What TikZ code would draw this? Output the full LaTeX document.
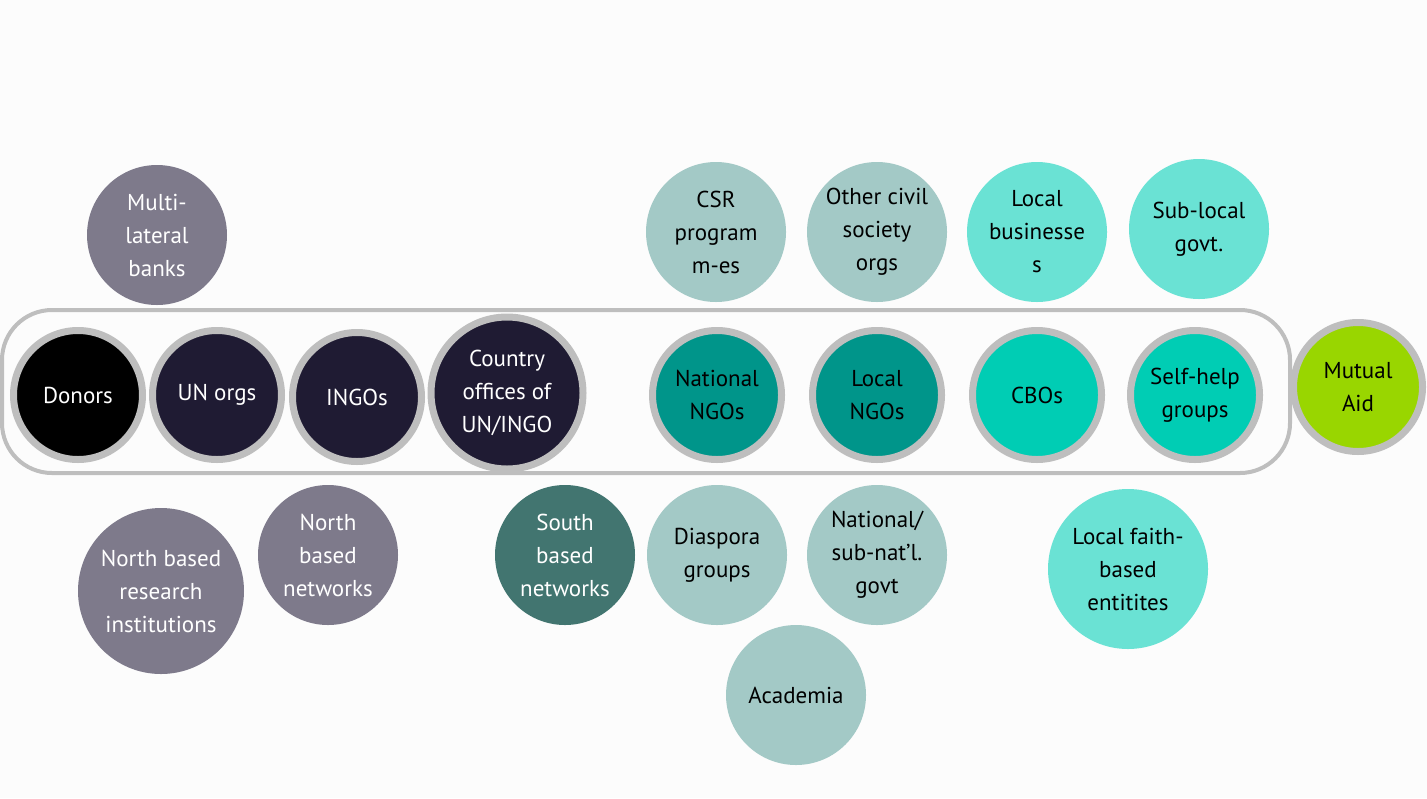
\documentclass[tikz,border=0pt]{standalone}
\usepackage{fontspec}
\setmainfont{PT Sans}
\definecolor{bgwhite}{HTML}{FCFCFC}
\definecolor{ringgray}{HTML}{BEBEBE}
\definecolor{donorblack}{HTML}{000000}
\definecolor{navy}{HTML}{1F1B33}
\definecolor{tealdark}{HTML}{00958A}
\definecolor{aqua}{HTML}{00CDB4}
\definecolor{lime}{HTML}{99D600}
\definecolor{northgray}{HTML}{7E7A8B}
\definecolor{southteal}{HTML}{427570}
\definecolor{paleteal}{HTML}{A3C9C6}
\definecolor{paleaqua}{HTML}{6AE2D4}

\begin{document}
\begin{tikzpicture}[x=0.5pt,y=-0.5pt,
	org/.style={circle,inner sep=0pt,align=center,font=\fontsize{11.5}{16.5}\selectfont},
	ringed/.style={org,draw=ringgray,line width=3.5pt,minimum size=64.5pt},
	free/.style={org,minimum size=70pt}]
	\fill[bgwhite] (0,0) rectangle (1427,798);
	\useasboundingbox (0,0) rectangle (1427,798);
	% frame round the main row
	\draw[ringgray, line width=2pt, rounded corners=25pt] (2,310) rectangle (1290,473);
	% main row
	\node[ringed, fill=donorblack, text=white] (donors) at (78,395) {Donors};
	\node[ringed, fill=navy, text=white] (unorgs) at (217,395) {UN orgs};
	\node[ringed, fill=navy, text=white] (ingos) at (357,397) {INGOs};
	\node[ringed, fill=navy, text=white, minimum size=76pt] (country) at (507,393) {Country\\offices of\\UN/INGO};
	\node[ringed, fill=tealdark] (natngos) at (717,395) {National\\NGOs};
	\node[ringed, fill=tealdark] (localngos) at (877,395) {Local\\NGOs};
	\node[ringed, fill=aqua] (cbos) at (1037,395) {CBOs};
	\node[ringed, fill=aqua] (selfhelp) at (1195,395) {Self-help\\groups};
	\node[ringed, fill=lime] (mutual) at (1358,387) {Mutual\\Aid};
	% top row
	\node[free, fill=northgray, text=white] (multibanks) at (157,235) {Multi-\\lateral\\banks};
	\node[free, fill=paleteal] (csr) at (716,232) {CSR\\program\\m-es};
	\node[free, fill=paleteal] (othercso) at (877,232) {Other civil\\society\\orgs};
	\node[free, fill=paleaqua] (localbiz) at (1037,232) {Local\\businesse\\s};
	\node[free, fill=paleaqua] (sublocal) at (1199,229) {Sub-local\\govt.};
	% bottom rows
	\node[free, fill=northgray, text=white, minimum size=83pt] (northresearch) at (161,591) {North based\\research\\institutions};
	\node[free, fill=northgray, text=white] (northnets) at (328,555) {North\\based\\networks};
	\node[free, fill=southteal, text=white] (southnets) at (565,555) {South\\based\\networks};
	\node[free, fill=paleteal] (diaspora) at (717,555) {Diaspora\\groups};
	\node[free, fill=paleteal] (natgovt) at (877,555) {National/\\sub-nat'l.\\govt};
	\node[free, fill=paleteal] (academia) at (796,695) {Academia};
	\node[free, fill=paleaqua, minimum size=80pt] (faith) at (1128,569) {Local faith-\\based\\entitites};
\end{tikzpicture}
\end{document}
